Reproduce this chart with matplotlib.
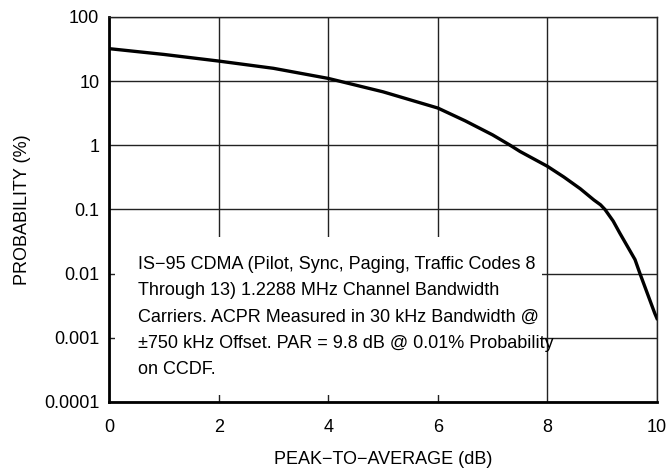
import matplotlib
matplotlib.use("Agg")
import matplotlib.pyplot as plt
from matplotlib.patches import Rectangle

plt.rcParams['font.family'] = ['Liberation Sans Narrow', 'Liberation Sans', 'DejaVu Sans']

# CCDF curve
par_db = [0, 1, 2, 3, 4, 5, 6, 6.5, 7, 7.32, 7.5, 8, 8.3, 8.6, 8.85, 8.97, 9.05,
          9.2, 9.32, 9.6, 9.69, 9.96, 10]
prob_pct = [32, 26, 20.5, 15.8, 11, 6.8, 3.8, 2.4, 1.45, 1.0, 0.8, 0.47, 0.32,
            0.21, 0.14, 0.118, 0.1, 0.066, 0.043, 0.0165, 0.01, 0.0024, 0.002]

x_ticks = [0, 2, 4, 6, 8, 10]
y_ticks = [1e-4, 1e-3, 1e-2, 1e-1, 1, 10, 100]
y_labels = ['0.0001', '0.001', '0.01', '0.1', '1', '10', '100']

note = ("IS\u221295 CDMA (Pilot, Sync, Paging, Traffic Codes 8\n"
        "Through 13) 1.2288 MHz Channel Bandwidth\n"
        "Carriers. ACPR Measured in 30 kHz Bandwidth @\n"
        "\u00b1750 kHz Offset. PAR = 9.8 dB @ 0.01% Probability\n"
        "on CCDF.")

fig = plt.figure(figsize=(6.69, 4.69), dpi=100)
ax = fig.add_axes([0.163, 0.143, 0.819, 0.821])

ax.set_yscale('log')
ax.set_xlim(0, 10)
ax.set_ylim(1e-4, 100)

ax.grid(True, which='major', color='#222222', linewidth=1.0)
ax.minorticks_off()
ax.set_xticks(x_ticks)
ax.set_yticks(y_ticks)
ax.set_yticklabels(y_labels)
ax.tick_params(length=0, labelsize=13)
ax.tick_params(axis='x', pad=12)
ax.tick_params(axis='y', pad=7)

for side in ['top', 'right']:
    ax.spines[side].set_linewidth(1.0)
    ax.spines[side].set_color('#222222')
for side in ['left', 'bottom']:
    ax.spines[side].set_linewidth(2.0)

# white box behind the note hides the grid
ax.add_patch(Rectangle((0.11, 1.3e-4), 7.8, 0.0375 - 1.3e-4,
                       facecolor='white', edgecolor='none', zorder=2))
ax.text(0.53, 0.019, note, fontsize=13, va='top', ha='left',
        linespacing=1.72, zorder=4)

ax.plot(par_db, prob_pct, color='black', linewidth=2.4, zorder=5,
        solid_joinstyle='round')

ax.set_xlabel('PEAK\u2212TO\u2212AVERAGE (dB)', fontsize=13, labelpad=11)
ax.set_ylabel('PROBABILITY (%)', fontsize=13, labelpad=9)

fig.savefig('out.png', dpi=100)
